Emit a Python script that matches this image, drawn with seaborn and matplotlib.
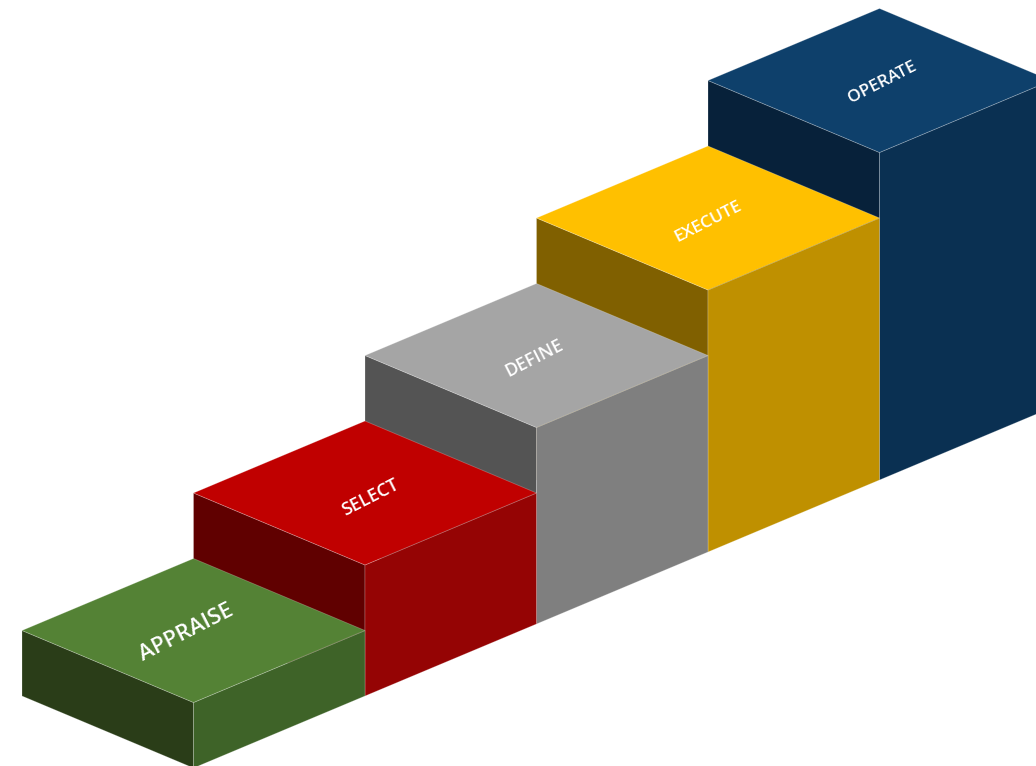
import matplotlib
matplotlib.use("Agg")
import matplotlib.pyplot as plt
from matplotlib.patches import Polygon
import seaborn as sns

# Stage names and their step heights (in block units)
stages = ["APPRAISE", "SELECT", "DEFINE", "EXECUTE", "OPERATE"]
heights = [1, 2, 3, 4, 5]

# Face colours per stage: top, left (shaded), right (mid)
top_colors = ["#548235", "#C00000", "#A5A5A5", "#FFC000", "#0E406B"]
left_colors = ["#2A3D18", "#600000", "#545454", "#806000", "#07213A"]
right_colors = ["#3E6328", "#950404", "#7F7F7F", "#BF9000", "#0A3052"]
label_sizes = [16, 13, 13, 12.5, 12.5]
label_shift = [(-7, 2), (5, 5), (-2, 3), (0, 4), (3, 2)]

sns.set_theme(style="white")
plt.rcParams["font.family"] = ["Open Sans", "DejaVu Sans"]

W, H = 1036, 766
fig = plt.figure(figsize=(W / 100, H / 100), dpi=100)
ax = fig.add_axes([0, 0, 1, 1])
ax.set_xlim(0, W)
ax.set_ylim(H, 0)
ax.axis("off")

# isometric projection (x along the stair, y depth, z height)
OX, OY = 22.0, 696.0
DX, DY, DZ = 171.5, 72.0, 65.5


def proj(x, y, z):
    return (OX + (x + y) * DX, OY - x * DY + y * DY - z * DZ)


def face(pts, color):
    poly = Polygon([proj(*p) for p in pts], closed=True, facecolor=color,
                   edgecolor=(1, 1, 1, 0.25), linewidth=0.6, joinstyle="miter")
    ax.add_patch(poly)


# draw back blocks first so the nearer, lower steps overlap them
for i in reversed(range(len(stages))):
    h = heights[i]
    x0, x1 = i, i + 1
    # left face (x = x0)
    face([(x0, 0, 0), (x0, 1, 0), (x0, 1, h), (x0, 0, h)], left_colors[i])
    # right face (y = 1)
    face([(x0, 1, 0), (x1, 1, 0), (x1, 1, h), (x0, 1, h)], right_colors[i])
    # top face (z = h)
    face([(x0, 0, h), (x1, 0, h), (x1, 1, h), (x0, 1, h)], top_colors[i])
    cx, cy = proj(x0 + 0.5, 0.5, h)
    dx, dy = label_shift[i]
    ax.text(cx + dx, cy + dy, stages[i], color="white",
            fontsize=label_sizes[i], rotation=27, ha="center", va="center",
            rotation_mode="anchor", fontweight="semibold")

fig.savefig("out.png", dpi=100)
